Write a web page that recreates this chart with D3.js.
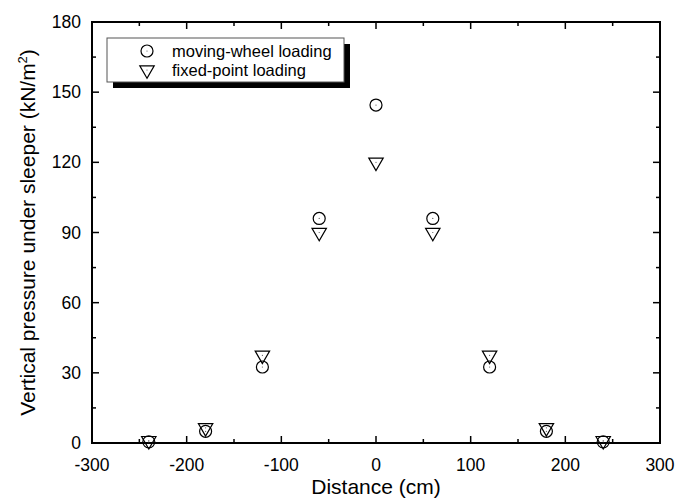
<!DOCTYPE html>
<meta charset="utf-8">
<script src="https://cdn.jsdelivr.net/npm/d3@7"></script>
<style>
    body { margin: 0; background: #fff; }
    text { font-family: "Liberation Sans", Arial, sans-serif; fill: #000; }
</style>
<body>
<script>
    // data
    var distances = [-240, -180, -120, -60, 0, 60, 120, 180, 240];
    var movingWheel = [0.5, 5, 32.5, 96, 144.5, 96, 32.5, 5, 0.5];
    var fixedPoint = [1, 6.5, 37.5, 90, 120, 90, 37.5, 6.5, 1];
    var xTicks = [-300, -200, -100, 0, 100, 200, 300];
    var yTicks = [0, 30, 60, 90, 120, 150, 180];
    var seriesNames = ["moving-wheel loading", "fixed-point loading"];

    var width = 676, height = 501;
    var margin = { left: 92, right: 16, top: 22, bottom: 58 };

    var svg = d3.select("body").append("svg")
        .attr("width", width)
        .attr("height", height);

    var x = d3.scaleLinear().domain([-300, 300]).range([margin.left, width - margin.right]);
    var y = d3.scaleLinear().domain([0, 180]).range([height - margin.bottom, margin.top]);

    var minorX = d3.range(-250, 300, 100);
    var minorY = d3.range(15, 180, 30);

    // ticks pointing inward on all four sides
    function ticks(g, vals, len, side) {
        g.selectAll("line").data(vals).enter().append("line")
            .attr("stroke", "#000").attr("stroke-width", 1.5)
            .each(function (d) {
                var s = d3.select(this);
                if (side === "bottom") s.attr("x1", x(d)).attr("x2", x(d)).attr("y1", y(0)).attr("y2", y(0) - len);
                if (side === "top") s.attr("x1", x(d)).attr("x2", x(d)).attr("y1", y(180)).attr("y2", y(180) + len);
                if (side === "left") s.attr("y1", y(d)).attr("y2", y(d)).attr("x1", x(-300)).attr("x2", x(-300) + len);
                if (side === "right") s.attr("y1", y(d)).attr("y2", y(d)).attr("x1", x(300)).attr("x2", x(300) - len);
            });
    }
    var tg = svg.append("g");
    ["bottom", "top"].forEach(function (s) {
        ticks(tg.append("g"), xTicks, 7, s);
        ticks(tg.append("g"), minorX, 4, s);
    });
    ["left", "right"].forEach(function (s) {
        ticks(tg.append("g"), yTicks, 7, s);
        ticks(tg.append("g"), minorY, 4, s);
    });

    // frame
    svg.append("rect")
        .attr("x", x(-300)).attr("y", y(180))
        .attr("width", x(300) - x(-300)).attr("height", y(0) - y(180))
        .attr("fill", "none").attr("stroke", "#000").attr("stroke-width", 2);

    // tick labels
    svg.append("g").selectAll("text").data(xTicks).enter().append("text")
        .attr("x", function (d) { return x(d); })
        .attr("y", y(0) + 28)
        .attr("text-anchor", "middle")
        .style("font-size", "17.5px")
        .text(function (d) { return d; });

    svg.append("g").selectAll("text").data(yTicks).enter().append("text")
        .attr("x", x(-300) - 11)
        .attr("y", function (d) { return y(d) + 6; })
        .attr("text-anchor", "end")
        .style("font-size", "17.5px")
        .text(function (d) { return d; });

    // axis titles
    svg.append("text")
        .attr("x", x(0)).attr("y", 494)
        .attr("text-anchor", "middle")
        .style("font-size", "21px")
        .text("Distance (cm)");

    var yl = svg.append("text")
        .attr("transform", "translate(35," + ((y(0) + y(180)) / 2) + ") rotate(-90)")
        .attr("text-anchor", "middle")
        .style("font-size", "21px");
    yl.append("tspan").text("Vertical pressure under sleeper (kN/m");
    yl.append("tspan").attr("dy", -8).style("font-size", "13px").text("2");
    yl.append("tspan").attr("dy", 8).text(")");

    // markers
    var circleR = 6;
    var tri = d3.symbol().type(d3.symbolTriangle).size(90);

    function drawCircle(g, cx, cy) {
        g.append("circle").attr("cx", cx).attr("cy", cy).attr("r", circleR)
            .attr("fill", "none").attr("stroke", "#000").attr("stroke-width", 1.2);
        g.append("circle").attr("cx", cx).attr("cy", cy).attr("r", 0.6).attr("fill", "#555");
    }
    function drawTri(g, cx, cy) {
        g.append("path").attr("d", tri)
            .attr("transform", "translate(" + cx + "," + cy + ") rotate(180)")
            .attr("fill", "none").attr("stroke", "#000").attr("stroke-width", 1.2);
        g.append("circle").attr("cx", cx).attr("cy", cy).attr("r", 0.6).attr("fill", "#555");
    }

    var pts = svg.append("g");
    distances.forEach(function (d, i) {
        drawCircle(pts, x(d), y(movingWheel[i]));
    });
    distances.forEach(function (d, i) {
        drawTri(pts, x(d), y(fixedPoint[i]));
    });

    // legend with drop shadow
    var lg = svg.append("g").attr("transform", "translate(107,38)");
    lg.append("rect").attr("x", 6).attr("y", 6).attr("width", 237).attr("height", 44).attr("fill", "#000");
    lg.append("rect").attr("width", 237).attr("height", 44)
        .attr("fill", "#fff").attr("stroke", "#555").attr("stroke-width", 1);
    drawCircle(lg, 40, 13);
    drawTri(lg, 40, 32);
    lg.selectAll("text.lab").data(seriesNames).enter().append("text")
        .attr("class", "lab")
        .attr("x", 65)
        .attr("y", function (d, i) { return 19 + i * 19; })
        .style("font-size", "16.5px")
        .text(function (d) { return d; });
</script>
</body>
